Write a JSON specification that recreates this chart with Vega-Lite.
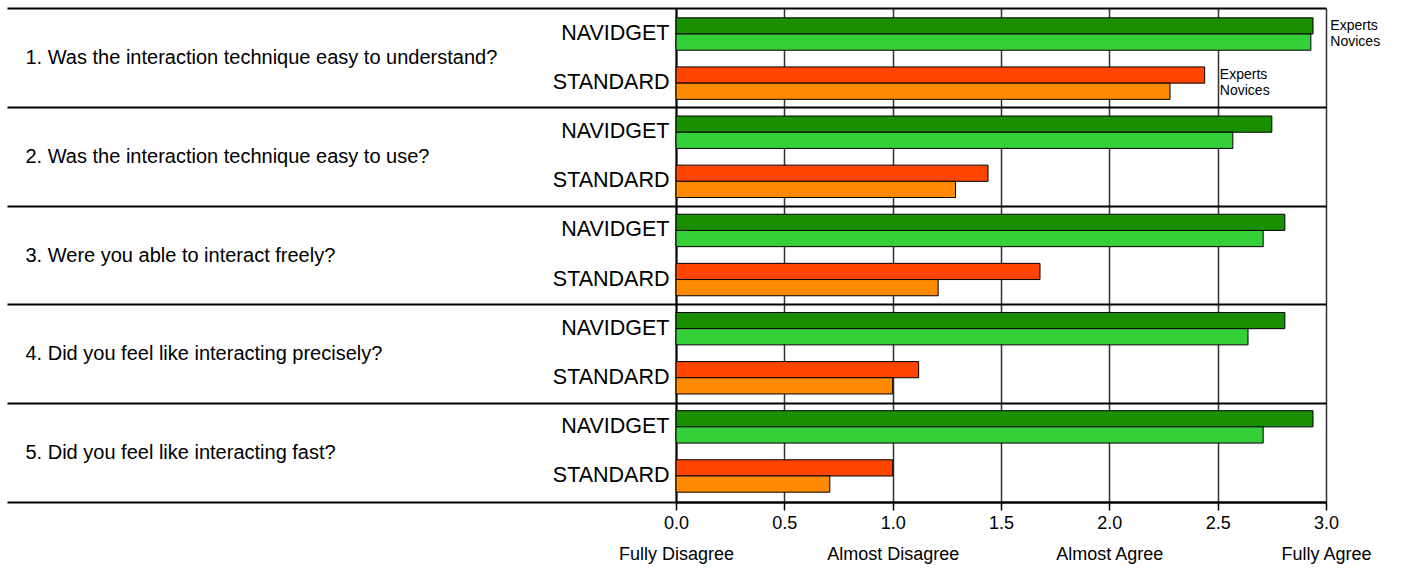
{
  "$schema": "https://vega.github.io/schema/vega-lite/v6.json",
  "width": 650,
  "height": 494,
  "autosize": {"type": "none"},
  "padding": {"left": 676, "top": 8, "right": 75, "bottom": 66},
  "config": {"font": "Liberation Sans", "view": {"stroke": null}, "axis": {"labelColor": "black"}},
  "data": {"values": [
    {"question": "1. Was the interaction technique easy to understand?", "technique": "NAVIDGET", "group": "Experts", "value": 2.94},
    {"question": "1. Was the interaction technique easy to understand?", "technique": "NAVIDGET", "group": "Novices", "value": 2.93},
    {"question": "1. Was the interaction technique easy to understand?", "technique": "STANDARD", "group": "Experts", "value": 2.44},
    {"question": "1. Was the interaction technique easy to understand?", "technique": "STANDARD", "group": "Novices", "value": 2.28},
    {"question": "2. Was the interaction technique easy to use?", "technique": "NAVIDGET", "group": "Experts", "value": 2.75},
    {"question": "2. Was the interaction technique easy to use?", "technique": "NAVIDGET", "group": "Novices", "value": 2.57},
    {"question": "2. Was the interaction technique easy to use?", "technique": "STANDARD", "group": "Experts", "value": 1.44},
    {"question": "2. Was the interaction technique easy to use?", "technique": "STANDARD", "group": "Novices", "value": 1.29},
    {"question": "3. Were you able to interact freely?", "technique": "NAVIDGET", "group": "Experts", "value": 2.81},
    {"question": "3. Were you able to interact freely?", "technique": "NAVIDGET", "group": "Novices", "value": 2.71},
    {"question": "3. Were you able to interact freely?", "technique": "STANDARD", "group": "Experts", "value": 1.68},
    {"question": "3. Were you able to interact freely?", "technique": "STANDARD", "group": "Novices", "value": 1.21},
    {"question": "4. Did you feel like interacting precisely?", "technique": "NAVIDGET", "group": "Experts", "value": 2.81},
    {"question": "4. Did you feel like interacting precisely?", "technique": "NAVIDGET", "group": "Novices", "value": 2.64},
    {"question": "4. Did you feel like interacting precisely?", "technique": "STANDARD", "group": "Experts", "value": 1.12},
    {"question": "4. Did you feel like interacting precisely?", "technique": "STANDARD", "group": "Novices", "value": 1.0},
    {"question": "5. Did you feel like interacting fast?", "technique": "NAVIDGET", "group": "Experts", "value": 2.94},
    {"question": "5. Did you feel like interacting fast?", "technique": "NAVIDGET", "group": "Novices", "value": 2.71},
    {"question": "5. Did you feel like interacting fast?", "technique": "STANDARD", "group": "Experts", "value": 1.0},
    {"question": "5. Did you feel like interacting fast?", "technique": "STANDARD", "group": "Novices", "value": 0.71}
  ]},
  "layer": [
    {
      "mark": {"type": "rule", "opacity": 0},
      "encoding": {
        "y": {
          "field": "question", "type": "nominal", "sort": null,
          "scale": {"type": "band", "paddingInner": 0, "paddingOuter": 0},
          "axis": {
            "orient": "left", "title": null, "domain": false,
            "tickBand": "extent", "ticks": true, "tickSize": 669, "tickWidth": 2, "tickColor": "black",
            "grid": true, "gridColor": "black", "gridWidth": 2,
            "labelAlign": "left", "labelPadding": -18, "labelFontSize": 20, "labelLimit": 0, "labelColor": "black"
          }
        }
      }
    },
    {
      "layer": [
        {
          "transform": [
            {"calculate": "datum.question + '|' + datum.technique", "as": "slot"},
            {"calculate": "datum.technique + ' ' + datum.group", "as": "series"}
          ],
          "mark": {"type": "bar", "stroke": "black", "strokeWidth": 1},
          "encoding": {
            "y": {
              "field": "slot", "type": "nominal", "sort": null,
              "scale": {"paddingInner": 0.34, "paddingOuter": 0.2},
              "axis": {
                "orient": "left", "title": null, "ticks": false, "grid": false,
                "domain": true, "domainColor": "black", "domainWidth": 2,
                "labelExpr": "split(datum.value, '|')[1]", "labelFontSize": 21.5, "labelPadding": 7, "labelColor": "black"
              }
            },
            "yOffset": {"field": "group", "type": "nominal", "sort": ["Experts", "Novices"], "scale": {"paddingInner": 0, "paddingOuter": 0}},
            "x": {
              "field": "value", "type": "quantitative",
              "scale": {"domain": [0, 3], "nice": false, "zero": true},
              "axis": {
                "title": null, "values": [0, 0.5, 1, 1.5, 2, 2.5, 3],
                "grid": true, "gridColor": "#333333", "gridWidth": 1.5,
                "domain": true, "domainColor": "black", "domainWidth": 2,
                "ticks": true, "tickSize": 8, "tickColor": "black", "tickWidth": 1.5,
                "labelFontSize": 18, "labelPadding": 4, "labelLineHeight": 31, "labelFlush": false,
                "labelExpr": "datum.value == 0 ? ['0.0', 'Fully Disagree'] : datum.value == 1 ? ['1.0', 'Almost Disagree'] : datum.value == 2 ? ['2.0', 'Almost Agree'] : datum.value == 3 ? ['3.0', 'Fully Agree'] : format(datum.value, '.1f')"
              }
            },
            "color": {
              "field": "series", "type": "nominal",
              "scale": {"domain": ["NAVIDGET Experts", "NAVIDGET Novices", "STANDARD Experts", "STANDARD Novices"], "range": ["#1a8f00", "#35cf3a", "#ff4500", "#ff8a00"]},
              "legend": null
            }
          }
        },
        {
          "data": {"values": [
            {"question": "1. Was the interaction technique easy to understand?", "technique": "NAVIDGET", "group": "Experts", "pos": 3.02},
            {"question": "1. Was the interaction technique easy to understand?", "technique": "NAVIDGET", "group": "Novices", "pos": 3.02},
            {"question": "1. Was the interaction technique easy to understand?", "technique": "STANDARD", "group": "Experts", "pos": 2.51},
            {"question": "1. Was the interaction technique easy to understand?", "technique": "STANDARD", "group": "Novices", "pos": 2.51}
          ]},
          "transform": [
            {"calculate": "datum.question + '|' + datum.technique", "as": "slot"}
          ],
          "mark": {"type": "text", "align": "left", "baseline": "middle", "fontSize": 14, "color": "black"},
          "encoding": {
            "y": {"field": "slot", "type": "nominal", "sort": null},
            "yOffset": {"field": "group", "type": "nominal", "sort": ["Experts", "Novices"]},
            "x": {"field": "pos", "type": "quantitative"},
            "text": {"field": "group"}
          }
        }
      ]
    }
  ],
  "resolve": {"scale": {"y": "independent"}}
}
